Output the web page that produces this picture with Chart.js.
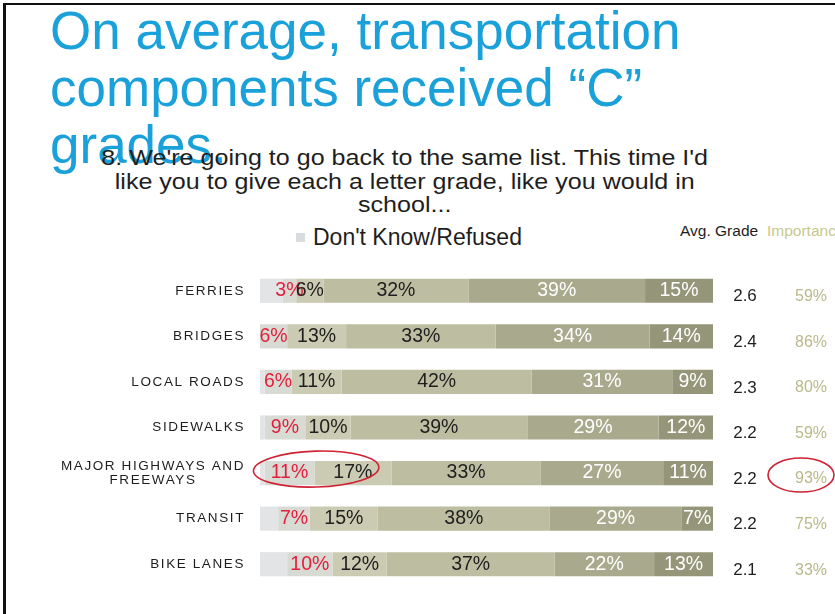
<!DOCTYPE html>
<html><head><meta charset="utf-8">
<script src="https://cdn.jsdelivr.net/npm/chart.js@4/dist/chart.umd.min.js"></script>
<style>
html,body{margin:0;padding:0;background:#fff;}
#wrap{position:relative;width:835px;height:614px;overflow:hidden;background:#fff;font-family:"Liberation Sans",Arial,sans-serif;}
.t{position:absolute;white-space:nowrap;}
#title{left:50px;top:2px;font-size:53px;line-height:57px;color:#1ba1da;}
#sub{left:55px;width:700px;top:146px;font-size:22px;line-height:23.5px;color:#1e1e1e;text-align:center;transform:scaleX(1.14);transform-origin:352px 0;}
#lgbox{left:296px;top:233px;width:9px;height:9px;background:#d9dcdd;}
#lgtxt{left:313px;top:226px;font-size:23px;line-height:23px;color:#1e1e1e;}
#hAvg{left:680px;top:222px;font-size:15.5px;line-height:17px;color:#1e1e1e;}
#hImp{left:767px;top:222px;font-size:15.5px;line-height:17px;color:#c8c88c;}
#bl{left:3px;top:3px;width:3px;height:611px;background:#111;}
#bt{left:3px;top:3px;width:832px;height:2px;background:#111;}
</style></head><body>
<div id="wrap">
<div class="t" id="bl"></div><div class="t" id="bt"></div>
<div class="t" id="title">On average, transportation<br>components received “C”<br>grades.</div>
<div class="t" id="sub">8. We're going to go back to the same list. This time I'd<br>like you to give each a letter grade, like you would in<br>school...</div>
<div class="t" id="lgbox"></div>
<div class="t" id="lgtxt">Don't Know/Refused</div>
<div class="t" id="hAvg">Avg. Grade</div>
<div class="t" id="hImp">Importance</div>
<canvas id="c" width="835" height="614" style="position:absolute;left:0;top:0"></canvas>
</div>
<script>
const categories = ['FERRIES','BRIDGES','LOCAL ROADS','SIDEWALKS',['MAJOR HIGHWAYS AND','FREEWAYS'],'TRANSIT','BIKE LANES'];
const dontKnow = [5,0,1,1,1,4,6];
const gradeF = [3,6,6,9,11,7,10];
const gradeD = [6,13,11,10,17,15,12];
const gradeC = [32,33,42,39,33,38,37];
const gradeB = [39,34,31,29,27,29,22];
const gradeA = [15,14,9,12,11,7,13];
const avgGrade = ['2.6','2.4','2.3','2.2','2.2','2.2','2.1'];
const importance = ['59%','86%','80%','59%','93%','75%','33%'];
const highlighted = 4;

const FONT = "'Liberation Sans', Arial, sans-serif";
const series = [
  {label:"Don't Know/Refused", data:dontKnow, color:'#e2e4e6', text:null},
  {label:'F', data:gradeF, color:'#d8dad4', text:'#e3203c'},
  {label:'D', data:gradeD, color:'#cbcbb3', text:'#1e1e1e'},
  {label:'C', data:gradeC, color:'#bdbea1', text:'#1e1e1e'},
  {label:'B', data:gradeB, color:'#a9aa8d', text:'#ffffff'},
  {label:'A', data:gradeA, color:'#949579', text:'#ffffff'}
];

const overlay = {
  id:'overlay',
  afterDatasetsDraw(chart){
    const ctx = chart.ctx;
    const ys = chart.scales.y;
    ctx.save();
    ctx.textBaseline = 'middle';
    ctx.textAlign = 'center';
    ctx.font = '19.5px ' + FONT;
    series.forEach((s, di) => {
      if (!s.text) return;
      const meta = chart.getDatasetMeta(di);
      meta.data.forEach((el, i) => {
        const v = s.data[i];
        if (!v) return;
        ctx.fillStyle = s.text;
        ctx.fillText(v + '%', (el.x + el.base) / 2, el.y);
      });
    });
    ctx.font = '13.5px ' + FONT;
    ctx.fillStyle = '#1e1e1e';
    ctx.letterSpacing = '1.6px';
    const right = chart.chartArea.left - 15;
    categories.forEach((c, i) => {
      const y = ys.getPixelForValue(i);
      if (Array.isArray(c)) {
        const w = ctx.measureText(c[0]).width;
        const cx = right - w / 2;
        ctx.textAlign = 'center';
        c.forEach((line, k) => ctx.fillText(line, cx, y + (k - (c.length - 1) / 2) * 14));
      } else {
        ctx.textAlign = 'right';
        ctx.fillText(c, right, y);
      }
    });
    ctx.letterSpacing = '0px';
    const xa = chart.chartArea.right;
    categories.forEach((c, i) => {
      const y = ys.getPixelForValue(i) + 6;
      ctx.textAlign = 'center';
      ctx.font = '17px ' + FONT;
      ctx.fillStyle = '#1e1e1e';
      ctx.fillText(avgGrade[i], xa + 32, y);
      ctx.font = '16px ' + FONT;
      ctx.fillStyle = '#b9b98a';
      ctx.fillText(importance[i], xa + 98, y);
    });
    const fm = chart.getDatasetMeta(1).data[highlighted];
    const dm = chart.getDatasetMeta(2).data[highlighted];
    const fc = (fm.x + fm.base) / 2, dc = (dm.x + dm.base) / 2;
    const hy = fm.y;
    ctx.strokeStyle = '#cf2233';
    ctx.lineWidth = 1.6;
    ctx.beginPath();
    ctx.ellipse((fc + dc) / 2 - 5, hy - 4, (dc - fc) / 2 + 31, 18, -0.03, 0, Math.PI * 2);
    ctx.stroke();
    ctx.beginPath();
    ctx.ellipse(xa + 88, ys.getPixelForValue(highlighted) + 2, 33, 17, 0, 0, Math.PI * 2);
    ctx.stroke();
    ctx.restore();
  }
};

new Chart(document.getElementById('c'), {
  type:'bar',
  data:{
    labels:categories,
    datasets:series.map(s => ({label:s.label, data:s.data, backgroundColor:s.color, borderWidth:0, barPercentage:0.53, categoryPercentage:1}))
  },
  options:{
    indexAxis:'y',
    responsive:false,
    animation:false,
    layout:{padding:{left:260, right:122, top:268, bottom:27}},
    scales:{
      x:{stacked:true, min:0, max:100, display:false},
      y:{stacked:true, display:false}
    },
    plugins:{legend:{display:false}, tooltip:{enabled:false}}
  },
  plugins:[overlay]
});
</script>
</body></html>
